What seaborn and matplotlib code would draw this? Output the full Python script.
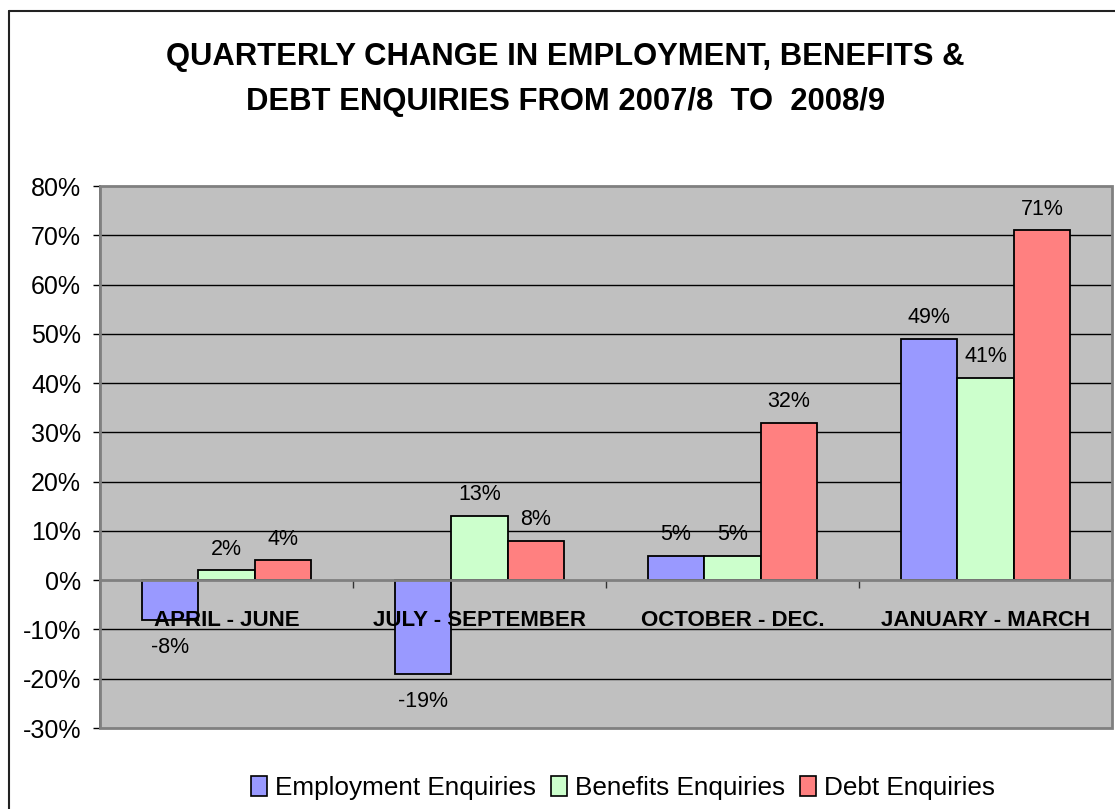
import matplotlib
matplotlib.use('Agg')
import matplotlib.pyplot as plt
import seaborn as sns
import pandas as pd
from matplotlib.patches import Rectangle
from matplotlib.lines import Line2D
from matplotlib.ticker import FuncFormatter

# data (percent change)
quarters = ['APRIL - JUNE', 'JULY - SEPTEMBER', 'OCTOBER - DEC.', 'JANUARY - MARCH']
series = ['Employment Enquiries', 'Benefits Enquiries', 'Debt Enquiries']
employment = [-8, -19, 5, 49]
benefits = [2, 13, 5, 41]
debt = [4, 8, 32, 71]
colors = ['#9999FF', '#CCFFCC', '#FF8080']
title = 'QUARTERLY CHANGE IN EMPLOYMENT, BENEFITS &\nDEBT ENQUIRIES FROM 2007/8  TO  2008/9'

df = pd.DataFrame({
    'Quarter': quarters * 3,
    'Series': [series[0]] * 4 + [series[1]] * 4 + [series[2]] * 4,
    'Change': employment + benefits + debt,
})

sns.set_style('white')
plt.rcParams['font.family'] = ['Liberation Sans', 'DejaVu Sans']
plt.rcParams['text.color'] = 'black'
plt.rcParams['xtick.color'] = 'black'
plt.rcParams['ytick.color'] = 'black'
plt.rcParams['xtick.labelcolor'] = 'black'
plt.rcParams['ytick.labelcolor'] = 'black'

W, H = 1115, 809
fig = plt.figure(figsize=(W / 100, H / 100), dpi=100)
ax = fig.add_axes([100 / W, 1 - 728 / H, 1012 / W, 542 / H])
ax.set_facecolor('#C0C0C0')

sns.barplot(data=df, x='Quarter', y='Change', hue='Series', order=quarters,
            hue_order=series, palette=colors, width=0.67, gap=0,
            edgecolor='black', linewidth=1.3, saturation=1, ax=ax, zorder=3)

ax.set_ylim(-30, 80)
ax.set_yticks(range(-30, 81, 10))
ax.yaxis.set_major_formatter(FuncFormatter(lambda v, p: f'{v:.0f}%'))
ax.set_xlim(-0.5, 3.5)
ax.set_xticks([0.5, 1.5, 2.5])
ax.set_xticklabels([])
ax.set_xlabel('')
ax.set_ylabel('')
ax.tick_params(axis='y', direction='out', length=5, width=1, color='black',
               labelcolor='black', labelsize=18, pad=8.6, left=True)
ax.tick_params(axis='x', direction='out', length=5.8, width=1, color='#333333', bottom=True)

# gridlines
for v in range(-30, 81, 10):
    if v not in (0, -30, 80):
        ax.axhline(v, color='black', lw=1, zorder=1)

for s in ['top', 'right']:
    ax.spines[s].set_visible(False)
ax.spines['bottom'].set_position(('data', 0))
ax.spines['bottom'].set_color('#808080')
ax.spines['bottom'].set_linewidth(2)
ax.spines['bottom'].set_zorder(4)
ax.spines['left'].set_color('#333333')
ax.spines['left'].set_linewidth(1.2)
ax.add_patch(Rectangle((0, 0), 1, 1, transform=ax.transAxes, fill=False,
                       edgecolor='#808080', lw=2, clip_on=False, zorder=5))

# value labels
for cont, vals in zip(ax.containers, [employment, benefits, debt]):
    for bar, v in zip(cont, vals):
        x = bar.get_x() + bar.get_width() / 2
        off = 15.3 if v >= 0 else -19.8
        ax.annotate(f'{v}%', xy=(x, v), xytext=(0, off), textcoords='offset points',
                    ha='center', va='center', fontsize=15.5, color='black', zorder=6)

# category labels sitting just under the zero line
for i, q in enumerate(quarters):
    ax.annotate(q, xy=(i, 0), xytext=(0, -29), textcoords='offset points',
                ha='center', va='center', fontsize=16, fontweight='bold',
                color='black', zorder=7)

ax.get_legend().remove()
handles = [Rectangle((0, 0), 1, 1, facecolor=c, edgecolor='black', lw=1.2) for c in colors]
fig.legend(handles, series, loc='center', bbox_to_anchor=(623 / W, 1 - 788 / H),
           ncol=3, frameon=False, fontsize=18.8, handlelength=0.6, handleheight=0.8,
           handletextpad=0.3, columnspacing=0.6, labelcolor='black')

fig.text(565.5 / W, 1 - 79.5 / H, title, ha='center', va='center', fontsize=22.3,
         fontweight='bold', color='black', linespacing=1.69)

# outer chart border (only the left and top edges are visible)
fig.add_artist(Line2D([9 / W, 9 / W], [0, 1 - 11 / H], color='#222222', lw=1.5))
fig.add_artist(Line2D([9 / W, 1], [1 - 11 / H, 1 - 11 / H], color='#222222', lw=1.5))

fig.savefig('out.png', dpi=100, facecolor='white')
